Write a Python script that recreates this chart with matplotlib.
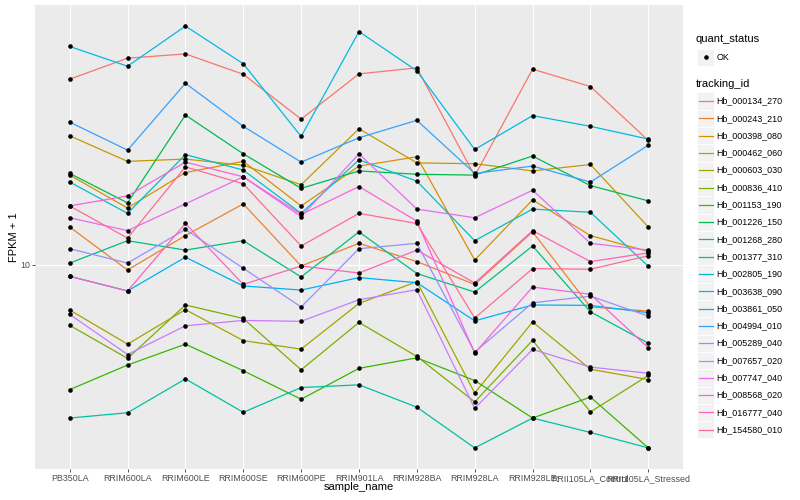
import numpy as np
import matplotlib
matplotlib.use("Agg")
import matplotlib.pyplot as plt
from matplotlib.patches import Rectangle
from matplotlib.ticker import NullLocator

samples = ["PB350LA", "RRIM600LA", "RRIM600LE", "RRIM600SE", "RRIM600PE", "RRIM901LA",
           "RRIM928BA", "RRIM928LA", "RRIM928LE", "RRII105LA_Control", "RRII105LA_Stressed"]
ids = ["Hb_000134_270", "Hb_000243_210", "Hb_000398_080", "Hb_000462_060", "Hb_000603_030",
       "Hb_000836_410", "Hb_001153_190", "Hb_001226_150", "Hb_001268_280", "Hb_001377_310",
       "Hb_002805_190", "Hb_003638_090", "Hb_003861_050", "Hb_004994_010", "Hb_005289_040",
       "Hb_007657_020", "Hb_007747_040", "Hb_008568_020", "Hb_016777_040", "Hb_154580_010"]
colors = ["#F8766D", "#EA8331", "#D89000", "#C09B00", "#A3A500", "#7CAE00", "#39B600", "#00BB4E",
          "#00BF7D", "#00C1A3", "#00BFC4", "#00BAE0", "#00B0F6", "#35A2FF", "#9590FF", "#C77CFF",
          "#E76BF3", "#FA62DB", "#FF62BC", "#FF6C91"]

# FPKM + 1, one list per tracking_id, in sample order
hb_000134_270 = [33.8, 38.8, 39.9, 34.9, 26.0, 35.0, 36.4, 17.9, 36.1, 32.2, 22.6]
hb_000243_210 = [12.8, 9.65, 12.1, 14.9, 9.91, 11.5, 10.2, 8.78, 12.4, 7.57, 7.37]
hb_000398_080 = [18.0, 14.5, 18.3, 19.7, 14.7, 19.1, 20.3, 10.3, 15.3, 12.1, 10.9]
hb_000462_060 = [23.3, 19.7, 20.0, 19.2, 16.9, 24.4, 19.5, 19.4, 18.5, 19.3, 12.8]
hb_000603_030 = [7.42, 5.93, 7.44, 6.07, 5.74, 7.75, 8.94, 4.30, 6.86, 5.03, 4.70]
hb_000836_410 = [6.71, 5.40, 7.67, 7.02, 5.01, 6.84, 5.47, 4.06, 6.08, 3.80, 4.83]
hb_001153_190 = [4.4, 5.17, 5.93, 4.98, 4.13, 5.06, 5.42, 4.67, 3.65, 4.19, 3.0]
hb_001226_150 = [18.2, 15.0, 26.7, 20.7, 16.5, 18.5, 18.1, 18.0, 20.4, 16.8, 15.2]
hb_001268_280 = [10.1, 11.7, 11.0, 11.7, 9.22, 12.4, 9.43, 8.35, 11.3, 7.33, 5.97]
hb_001377_310 = [3.65, 3.78, 4.72, 3.79, 4.46, 4.54, 3.92, 3.0, 3.65, 3.32, 3.0]
hb_002805_190 = [17.2, 14.0, 20.6, 18.6, 14.0, 19.9, 17.3, 11.7, 14.4, 14.1, 9.89]
hb_003638_090 = [41.9, 36.8, 47.9, 37.4, 23.2, 46.2, 35.7, 21.3, 26.6, 24.8, 22.8]
hb_003861_050 = [9.26, 8.41, 10.5, 8.69, 8.46, 9.18, 8.88, 6.91, 7.67, 7.65, 7.29]
hb_004994_010 = [25.5, 21.2, 32.9, 24.8, 19.6, 23.0, 25.8, 18.2, 19.1, 17.2, 21.9]
hb_005289_040 = [11.1, 10.1, 12.6, 9.76, 7.57, 11.1, 11.5, 5.63, 7.78, 8.13, 7.13]
hb_007657_020 = [7.21, 5.54, 6.69, 6.93, 6.89, 7.94, 8.48, 3.89, 5.73, 5.10, 4.90]
hb_007747_040 = [13.6, 12.5, 14.9, 17.8, 13.7, 20.7, 14.4, 13.6, 16.3, 11.5, 11.0]
hb_008568_020 = [14.7, 15.7, 19.6, 17.8, 13.9, 16.7, 13.3, 5.59, 8.63, 8.23, 5.79]
hb_016777_040 = [9.26, 8.41, 13.1, 8.78, 9.91, 9.46, 11.0, 8.86, 12.5, 10.2, 10.8]
hb_154580_010 = [14.7, 11.9, 19.0, 17.0, 11.3, 14.0, 13.1, 7.04, 9.74, 9.70, 10.6]

series = [hb_000134_270, hb_000243_210, hb_000398_080, hb_000462_060, hb_000603_030,
          hb_000836_410, hb_001153_190, hb_001226_150, hb_001268_280, hb_001377_310,
          hb_002805_190, hb_003638_090, hb_003861_050, hb_004994_010, hb_005289_040,
          hb_007657_020, hb_007747_040, hb_008568_020, hb_016777_040, hb_154580_010]

plt.rcParams["font.family"] = ["Liberation Sans", "DejaVu Sans"]

fig = plt.figure(figsize=(8, 5), dpi=100)
ax = fig.add_axes([35 / 800, 31 / 500, 648 / 800, 464 / 500])
ax.set_facecolor("#EBEBEB")
x = np.arange(len(samples))
for vals, col in zip(series, colors):
    ax.plot(x, vals, color=col, lw=0.9, zorder=2)
for vals in series:
    ax.plot(x, vals, ls="none", marker="o", ms=2.3, color="black", zorder=3)

ax.set_yscale("log")
logs = np.log10(np.concatenate(series))
lo, hi = logs.min(), logs.max()
pad = 0.05 * (hi - lo)
ax.set_ylim(10 ** (lo - pad), 10 ** (hi + pad))
ax.set_xlim(-0.6, len(samples) - 0.4)
ax.set_yticks([10])
ax.set_yticklabels(["10"])
ax.yaxis.set_minor_locator(NullLocator())
ax.set_xticks(x)
ax.set_xticklabels(samples)
ax.grid(True, color="white", lw=0.8)
ax.set_axisbelow(True)
for s in ax.spines.values():
    s.set_visible(False)
ax.tick_params(length=2.2, width=0.6, color="#333333", labelsize=6.4,
               labelcolor="#4D4D4D", pad=1.5)
ax.set_xlabel("sample_name", fontsize=8)
ax.set_ylabel("FPKM + 1", fontsize=8)
ax.xaxis.set_label_coords(0.5, -0.028)
ax.yaxis.set_label_coords(-0.025, 0.5)

# legend drawn by hand, pixel coordinates
lax = fig.add_axes([0, 0, 1, 1])
lax.set_xlim(0, 800)
lax.set_ylim(500, 0)
lax.axis("off")
lax.text(696, 39, "quant_status", fontsize=8, va="center")
lax.add_patch(Rectangle((697.3, 48.7), 17, 17, facecolor="#F2F2F2", edgecolor="white", lw=0.6))
lax.plot([705.8], [57.2], "o", color="black", ms=2.3)
lax.text(716.5, 57.2, "OK", fontsize=6.4, va="center")
lax.text(696, 84, "tracking_id", fontsize=8, va="center")
for i, (tid, col) in enumerate(zip(ids, colors)):
    cy = 101 + 17.3 * i
    lax.add_patch(Rectangle((697.3, cy - 8.6), 17, 17.3, facecolor="#F2F2F2",
                            edgecolor="white", lw=0.6))
    lax.plot([699, 712.5], [cy, cy], color=col, lw=0.9)
    lax.text(716.5, cy, tid, fontsize=6.4, va="center")

fig.savefig("out.png", dpi=100)
